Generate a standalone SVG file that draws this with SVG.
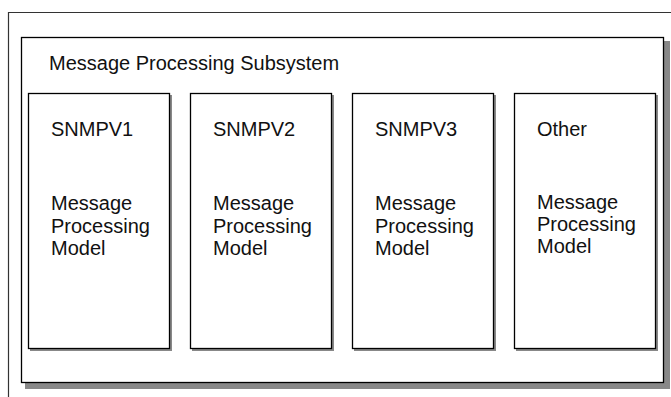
<svg xmlns="http://www.w3.org/2000/svg" width="671" height="397" viewBox="0 0 671 397">
<style>
.t{font-family:"Liberation Sans",Arial,sans-serif;font-size:20px;fill:#111}
.box{fill:#fff;stroke:#000;stroke-width:1.3}
.sh{fill:#888}
</style>
<rect width="671" height="397" fill="#fff"/>
<g id="frame">
<path d="M8.5,397 V12.5 H671" fill="none" stroke="#333" stroke-width="1.2"/>
</g>
<g id="subsystem">
<rect class="sh" x="25" y="41" width="645" height="348"/>
<rect class="box" x="21.5" y="37.5" width="642" height="345" stroke-width="1.6"/>
<text class="t" x="49" y="70">Message Processing Subsystem</text>
</g>
<g id="snmpv1">
<rect class="sh" x="30" y="95" width="142" height="256"/>
<rect class="box" x="28.5" y="93.5" width="141" height="255"/>
<text class="t" x="51" y="136">SNMPV1</text>
<text class="t" x="51" y="210">Message</text>
<text class="t" x="51" y="233">Processing</text>
<text class="t" x="51" y="255">Model</text>
</g>
<g id="snmpv2">
<rect class="sh" x="192" y="95" width="142" height="256"/>
<rect class="box" x="190.5" y="93.5" width="141" height="255"/>
<text class="t" x="213" y="136">SNMPV2</text>
<text class="t" x="213" y="210">Message</text>
<text class="t" x="213" y="233">Processing</text>
<text class="t" x="213" y="255">Model</text>
</g>
<g id="snmpv3">
<rect class="sh" x="354" y="95" width="142" height="256"/>
<rect class="box" x="352.5" y="93.5" width="141" height="255"/>
<text class="t" x="375" y="136">SNMPV3</text>
<text class="t" x="375" y="210">Message</text>
<text class="t" x="375" y="233">Processing</text>
<text class="t" x="375" y="255">Model</text>
</g>
<g id="other">
<rect class="sh" x="516" y="95" width="142" height="256"/>
<rect class="box" x="514.5" y="93.5" width="141" height="255"/>
<text class="t" x="537" y="136">Other</text>
<text class="t" x="537" y="209">Message</text>
<text class="t" x="537" y="231">Processing</text>
<text class="t" x="537" y="253">Model</text>
</g>
<g id="connectors"/>
</svg>
